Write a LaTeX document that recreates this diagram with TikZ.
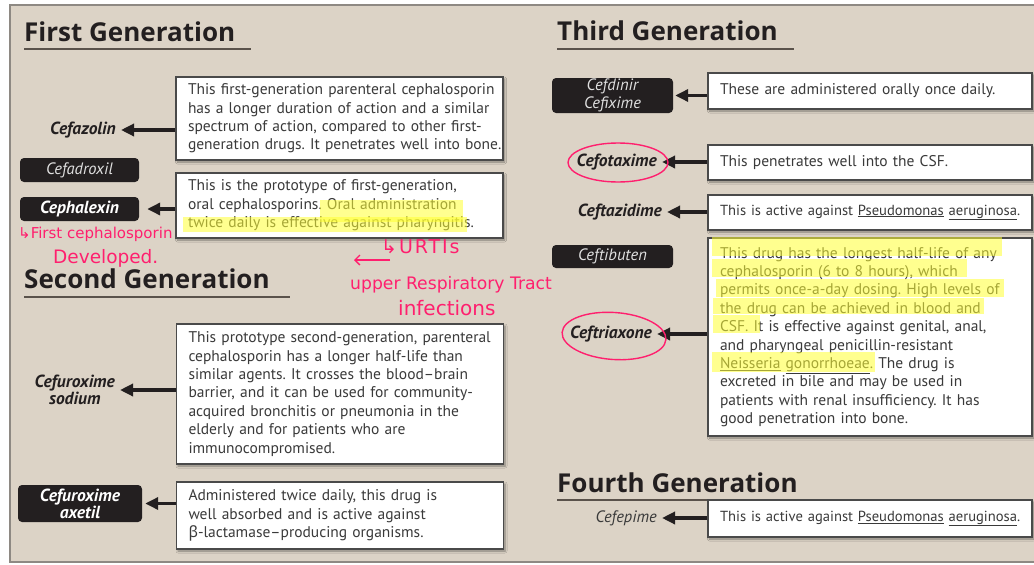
\documentclass[tikz,border=0pt]{standalone}
\usepackage{fontspec}
\setmainfont{PT Sans}
\newfontfamily\headfont{Open Sans}
\newfontfamily\greekfont{Noto Sans}
\newfontfamily\penfont{DejaVu Sans}
\newfontfamily\penwide{DejaVu Sans}[LetterSpace=10]
\usetikzlibrary{arrows.meta,shadows.blur}
\definecolor{paper}{HTML}{DCD3C6}
\definecolor{frame}{HTML}{8E8983}
\definecolor{ink}{HTML}{231F20}
\definecolor{bodytext}{HTML}{3A3A3A}
\definecolor{boxline}{HTML}{4A4A4A}
\definecolor{rulegrey}{HTML}{5A524B}
\definecolor{penpink}{HTML}{FF1F6E}
\definecolor{hilite}{HTML}{FFFF33}
\newcommand{\bugname}[1]{\underline{#1}}
\frenchspacing
\begin{document}
\begin{tikzpicture}[x=1pt,y=-1pt,
    heading/.style={anchor=base west, inner sep=0pt, text=ink, font=\headfont\fontsize{26}{30}\selectfont\bfseries},
    rule/.style={draw=rulegrey, line width=1.8pt},
    note/.style={draw=boxline, fill=white, line width=1.1pt, inner xsep=12pt, inner ysep=0pt,
        align=left, text=bodytext, font=\fontsize{15.5}{18.4}\selectfont,
        execute at begin node={\rightskip=0pt plus 1fil minus 100pt},
        blur shadow={shadow xshift=1.5pt, shadow yshift=-2pt, shadow blur steps=6, shadow opacity=40}},
    leftnote/.style={note, text width=303pt},
    rightnote/.style={note, text width=300pt},
    shortnote/.style={rightnote, font=\fontsize{14.6}{18.4}\selectfont},
    drug/.style={anchor=east, inner sep=2pt, align=center, text=ink, font=\fontsize{17.5}{15}\selectfont\bfseries\itshape},
    tag/.style={fill=ink, rounded corners=4pt, inner sep=0pt, align=center, text=white!88!black, font=\fontsize{16.5}{18}\selectfont\itshape},
    boldtag/.style={tag, text=white, font=\fontsize{17.5}{18}\selectfont\bfseries\itshape},
    pointer/.style={draw=ink, line width=3.4pt, -{Triangle[length=13pt,width=12pt]}, shorten >=3pt},
    pen/.style={anchor=west, inner sep=0pt, text=penpink, font=\penfont\fontsize{16}{18}\selectfont},
    penline/.style={draw=penpink, line width=1.4pt},
    marker/.style={fill=hilite, fill opacity=0.55, draw=none}
    ]
    \useasboundingbox (0,0) rectangle (1034,565);

    % Page and panel
    \fill[white] (0,0) rectangle (1034,565);
    \draw[fill=paper, draw=frame, line width=1.5pt] (10,5) rectangle (1040,562);

    % Headings
    \node[heading] (firsthead) at (24,41) {First Generation};
    \draw[rule] (24,49) -- (251,49);
    \node[heading] (secondhead) at (24,288) {Second Generation};
    \draw[rule] (24,297) -- (290,297);
    \node[heading] (thirdhead) at (557,40) {Third Generation};
    \draw[rule] (557,49) -- (794,49);
    \node[heading] (fourthhead) at (557,492) {Fourth Generation};
    \draw[rule] (557,500) -- (815,500);

    % First generation notes
    \node[leftnote, minimum height=83pt] (cefazolinnote) at (339.5,118.5)
        {This first-generation parenteral cephalosporin\\has a longer duration of action and a similar\\spectrum of action, compared to other first-\\generation drugs. It penetrates well into bone.};
    \node[leftnote, minimum height=65pt] (cephalexinnote) at (339.5,205.5)
        {This is the prototype of first-generation,\\oral cephalosporins. Oral administration\\twice daily is effective against pharyngitis.};

    % Second generation notes
    \node[leftnote, minimum height=140pt] (cefuroxnote) at (340,394)
        {This prototype second-generation, parenteral\\cephalosporin has a longer half-life than\\similar agents. It crosses the blood–brain\\barrier, and it can be used for community-\\acquired bronchitis or pneumonia in the\\elderly and for patients who are\\immunocompromised.};
    \node[leftnote, minimum height=67pt] (cefuroxaxnote) at (340,515.5)
        {Administered twice daily, this drug is\\well absorbed and is active against\\{\greekfont β}-lactamase–producing organisms.};

    % Third generation notes
    \node[rightnote, minimum height=36pt] (cefdinirnote) at (870,91)
        {These are administered orally once daily.};
    \node[rightnote, minimum height=35pt] (cefotaximenote) at (870,162.5)
        {This penetrates well into the CSF.};
    \node[shortnote, minimum height=35pt] (ceftazidimenote) at (870,212.5)
        {This is active against \bugname{Pseudomonas} \bugname{aeruginosa}.};
    \node[rightnote, minimum height=198pt] (ceftriaxonenote) at (870,337)
        {This drug has the longest half-life of any\\cephalosporin (6 to 8 hours), which\\permits once-a-day dosing. High levels of\\the drug can be achieved in blood and\\CSF. It is effective against genital, anal,\\and pharyngeal penicillin-resistant\\\bugname{Neisseria} \bugname{gonorrhoeae}. The drug is\\excreted in bile and may be used in\\patients with renal insufficiency. It has\\good penetration into bone.};

    % Fourth generation note
    \node[shortnote, minimum height=37pt] (cefepimenote) at (870,518.5)
        {This is active against \bugname{Pseudomonas} \bugname{aeruginosa}.};

    % Drug names
    \node[drug] (cefazolin) at (118,130) {Cefazolin};
    \node[tag, minimum width=119pt, minimum height=24pt] (cefadroxil) at (79.5,170) {Cefadroxil};
    \node[boldtag, minimum width=119pt, minimum height=24pt] (cephalexin) at (79.5,209) {Cephalexin};
    \node[drug] (cefurox) at (117,390) {Cefuroxime\\sodium};
    \node[boldtag, minimum width=124pt, minimum height=37pt, font=\fontsize{17.5}{14}\selectfont\bfseries\itshape] (cefuroxax) at (80,503.5) {Cefuroxime\\axetil};
    \node[tag, minimum width=121pt, minimum height=35pt] (cefdinir) at (612.5,95.5) {Cefdinir\\Cefixime};
    \node[drug] (cefotaxime) at (659,162) {Cefotaxime};
    \node[drug] (ceftazidime) at (664,212) {Ceftazidime};
    \node[tag, minimum width=121pt, minimum height=23pt] (ceftibuten) at (612.5,256.5) {Ceftibuten};
    \node[drug] (ceftriaxone) at (654,334) {Ceftriaxone};
    \node[drug, text=bodytext, font=\fontsize{16.5}{16}\selectfont\itshape] (cefepime) at (659,518) {Cefepime};

    % Arrows
    \draw[pointer] (cefazolinnote.west |- cefazolin.east) -- (cefazolin.east);
    \draw[pointer, shorten >=8pt] (cephalexinnote.west |- cephalexin.east) -- (cephalexin.east);
    \draw[pointer] (cefuroxnote.west |- cefurox.east) -- (cefurox.east);
    \draw[pointer] (cefuroxaxnote.west |- cefuroxax.east) -- (cefuroxax.east);
    \draw[pointer, shorten >=2pt] (cefdinirnote.west |- cefdinir.east) -- (cefdinir.east);
    \draw[pointer] (cefotaximenote.west |- cefotaxime.east) -- (cefotaxime.east);
    \draw[pointer] (ceftazidimenote.west |- ceftazidime.east) -- (ceftazidime.east);
    \draw[pointer] (ceftriaxonenote.west |- ceftriaxone.east) -- (ceftriaxone.east);
    \draw[pointer] (cefepimenote.west |- cefepime.east) -- (cefepime.east);

    % Highlighter
    \fill[marker] (320,200) rectangle (463,222);
    \fill[marker] (183,217) rectangle (467,232);
    \fill[marker] (712,237) rectangle (1002,256);
    \fill[marker] (712,259) rectangle (967,277);
    \fill[marker] (716,279) rectangle (1004,297);
    \fill[marker] (713,298) rectangle (984,314);
    \fill[marker] (713,315) rectangle (760,333);
    \fill[marker] (712,352) rectangle (875,372);

    % Pen notes
    \draw[penline] (618,162.5) ellipse [x radius=50, y radius=19.5];
    \draw[penline, rotate around={-4:(614,336)}] (614,336) ellipse [x radius=52, y radius=23.5];
    \node[pen, font=\penfont\fontsize{15}{18}\selectfont] (firstnote) at (18,234) {↳First cephalosporin};
    \node[pen, font=\penfont\fontsize{18.5}{20}\selectfont] (devnote) at (53,258) {Developed.};
    \node[pen, font=\penwide\fontsize{19}{19}\selectfont] (urtinote) at (381,247) {↳URTIs};
    \coordinate (penstart) at (390,260);
    \coordinate (penend) at (354,260);
    \draw[penline, -{Straight Barb[length=5pt]}] (penstart) -- (penend);
    \node[pen, font=\penfont\fontsize{17.2}{18}\selectfont] (uppernote) at (350,285) {upper Respiratory Tract};
    \node[pen, font=\penfont\fontsize{20}{20}\selectfont] (infnote) at (398,308) {infections};

\end{tikzpicture}
\end{document}
